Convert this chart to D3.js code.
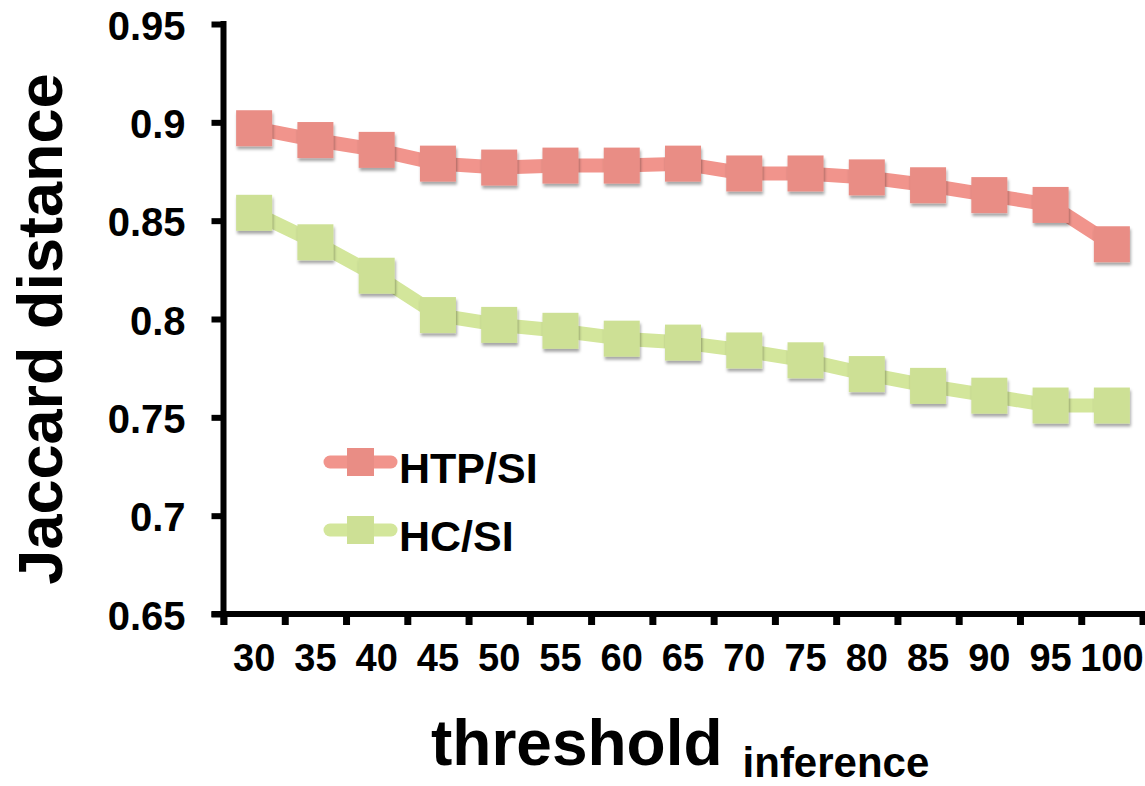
<!DOCTYPE html>
<html>
<head>
<meta charset="utf-8">
<script src="https://cdn.jsdelivr.net/npm/d3@7"></script>
<style>
  html, body { margin: 0; padding: 0; background: #fff; }
  svg { display: block; font-family: "Liberation Sans", Arial, Helvetica, sans-serif; font-weight: bold; }
</style>
</head>
<body>
<svg id="chart" width="1145" height="786"></svg>
<script>
// Threshold values on the x axis
const thresholds = [30, 35, 40, 45, 50, 55, 60, 65, 70, 75, 80, 85, 90, 95, 100];
// Jaccard distance per threshold
const htpSi = [0.897, 0.891, 0.886, 0.879, 0.877, 0.878, 0.878, 0.879, 0.874, 0.874, 0.872, 0.868, 0.863, 0.858, 0.838];
const hcSi  = [0.854, 0.839, 0.822, 0.802, 0.797, 0.794, 0.790, 0.788, 0.784, 0.779, 0.772, 0.766, 0.761, 0.756, 0.756];
// Y tick values and their labels
const yTickValues = [0.65, 0.7, 0.75, 0.8, 0.85, 0.9, 0.95];
const yTickLabels = ["0.65", "0.7", "0.75", "0.8", "0.85", "0.9", "0.95"];
const seriesNames = ["HTP/SI", "HC/SI"];

const series = [
  { name: seriesNames[0], values: htpSi, line: "#f1948c", marker: "#e98d85" },
  { name: seriesNames[1], values: hcSi,  line: "#d3e69b", marker: "#cde095" }
];

const svg = d3.select("#chart");
const plotLeft = 223.5, plotRight = 1142.5, plotTop = 24, plotBottom = 614;

const x = d3.scaleBand().domain(thresholds).range([plotLeft, plotRight]).padding(0);
const xEdges = d3.scaleLinear().domain([0, thresholds.length]).range([plotLeft, plotRight]);
const y = d3.scaleLinear().domain([0.65, 0.95]).range([plotBottom, plotTop]);

// drop shadow under the square markers
const defs = svg.append("defs");
const f = defs.append("filter").attr("id", "shadow")
  .attr("x", "-30%").attr("y", "-30%").attr("width", "160%").attr("height", "170%");
f.append("feDropShadow").attr("dx", 1).attr("dy", 3).attr("stdDeviation", 1.6)
  .attr("flood-color", "#000").attr("flood-opacity", 0.35);

// Y axis
const yAxis = d3.axisLeft(y).tickValues(yTickValues)
  .tickFormat((d, i) => yTickLabels[i]).tickSize(12).tickSizeOuter(0).tickPadding(26);
const gy = svg.append("g").attr("transform", `translate(${plotLeft},0)`).call(yAxis);
gy.select(".domain").remove();
gy.selectAll(".tick line").attr("stroke", "#000").attr("stroke-width", 6);
gy.selectAll(".tick text").attr("font-size", 40).attr("fill", "#000")
  .attr("font-family", "'Liberation Sans', Arial, sans-serif").attr("font-weight", "bold")
  .attr("dy", "0.38em");

// X axis boundary ticks
const xTicks = d3.axisBottom(xEdges).tickValues(d3.range(thresholds.length + 1))
  .tickFormat("").tickSize(11).tickSizeOuter(0);
const gx = svg.append("g").attr("transform", `translate(0,${plotBottom})`).call(xTicks);
gx.select(".domain").remove();
gx.selectAll(".tick line").attr("stroke", "#000").attr("stroke-width", 7);

// X category labels
const xLabels = d3.axisBottom(x).tickSize(0).tickPadding(30).tickSizeOuter(0);
const gxl = svg.append("g").attr("transform", `translate(0,${plotBottom})`).call(xLabels);
gxl.select(".domain").remove();
gxl.selectAll(".tick text").attr("font-size", 38).attr("fill", "#000")
  .attr("font-family", "'Liberation Sans', Arial, sans-serif").attr("font-weight", "bold");

// axis lines
svg.append("line").attr("x1", plotLeft).attr("x2", plotLeft)
  .attr("y1", y(0.95) - 3).attr("y2", plotBottom + 11)
  .attr("stroke", "#000").attr("stroke-width", 6);
svg.append("line").attr("x1", plotLeft - 12).attr("x2", plotRight + 3)
  .attr("y1", plotBottom).attr("y2", plotBottom)
  .attr("stroke", "#000").attr("stroke-width", 6);

// series lines and markers
const lineGen = d3.line().x((d, i) => x(thresholds[i]) + x.bandwidth() / 2).y(d => y(d));
const ms = 36;
series.forEach(s => {
  svg.append("path").datum(s.values).attr("d", lineGen)
    .attr("fill", "none").attr("stroke", s.line).attr("stroke-width", 14)
    .attr("stroke-linejoin", "round");
  svg.append("g").attr("filter", "url(#shadow)")
    .selectAll("rect").data(s.values).join("rect")
    .attr("x", (d, i) => x(thresholds[i]) + x.bandwidth() / 2 - ms / 2)
    .attr("y", d => y(d) - ms / 2)
    .attr("width", ms).attr("height", ms)
    .attr("fill", s.marker);
});

// legend
const legendY = [462, 530];
series.forEach((s, i) => {
  const g = svg.append("g");
  g.append("line").attr("x1", 330).attr("x2", 391).attr("y1", legendY[i]).attr("y2", legendY[i])
    .attr("stroke", s.line).attr("stroke-width", 13).attr("stroke-linecap", "round");
  g.append("rect").attr("x", 347).attr("y", legendY[i] - 14).attr("width", 27).attr("height", 28)
    .attr("fill", s.marker);
  g.append("text").attr("x", 399).attr("y", legendY[i] + 21)
    .attr("font-size", 43).attr("fill", "#000").text(s.name);
});

// axis titles
svg.append("text").attr("transform", "translate(62,329) rotate(-90)")
  .attr("text-anchor", "middle").attr("font-size", 63).attr("fill", "#000")
  .text("Jaccard distance");

const xt = svg.append("text").attr("x", 431).attr("y", 765).attr("fill", "#000");
xt.append("tspan").attr("font-size", 64).text("threshold");
xt.append("tspan").attr("font-size", 42).attr("dx", 20).attr("dy", 12).text("inference");
</script>
</body>
</html>
